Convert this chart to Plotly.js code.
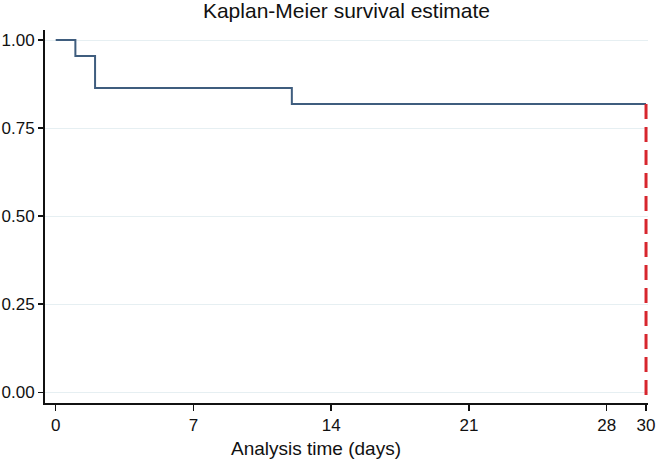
<!DOCTYPE html>
<html>
<head>
<meta charset="utf-8">
<script src="https://cdn.plot.ly/plotly-3.0.1.min.js"></script>
<style>html,body{margin:0;padding:0;background:#fff;}#chart{width:656px;height:464px;}</style>
</head>
<body>
<div id="chart"></div>
<script>
// Data
var times = [0, 1, 2, 12, 30];
var survival = [1.0, 0.9545, 0.8636, 0.8182, 0.8182];
var censorTime = [30, 30];
var xTicks = [0, 7, 14, 21, 28, 30];
var xTickLabels = ["0", "7", "14", "21", "28", "30"];
var yTicks = [0, 0.25, 0.5, 0.75, 1.0];
var yTickLabels = ["0.00", "0.25", "0.50", "0.75", "1.00"];

var yMin = -0.0305, yMax = 1.0284;
var font = "Liberation Sans, Arial, Helvetica, sans-serif";

var traces = [
  {
    x: times, y: survival, type: "scatter", mode: "lines",
    line: {shape: "hv", color: "#3f5d7e", width: 2},
    hoverinfo: "skip"
  },
  {
    x: censorTime, y: [survival[survival.length - 1], yMin], type: "scatter", mode: "lines",
    line: {color: "#d7262e", width: 3, dash: "15px,8px"},
    hoverinfo: "skip"
  }
];

var layout = {
  width: 656, height: 464,
  margin: {l: 45, r: 8, t: 30, b: 61},
  paper_bgcolor: "#ffffff", plot_bgcolor: "#ffffff",
  showlegend: false,
  font: {family: font, color: "#111", size: 17},
  title: {
    text: "Kaplan-Meier survival estimate",
    font: {family: font, size: 21, color: "#111"},
    x: 0.5, xref: "paper", y: 1 - 11/464, yref: "container", yanchor: "middle"
  },
  xaxis: {
    range: [-0.544, 30.1],
    tickmode: "array", tickvals: xTicks, ticktext: xTickLabels,
    ticks: "outside", ticklen: 6, tickwidth: 1.5, tickcolor: "#111",
    showline: true, linecolor: "#111", linewidth: 2,
    showgrid: false, zeroline: false,
    tickfont: {family: font, size: 17, color: "#111"}
  },
  yaxis: {
    range: [yMin, yMax],
    tickmode: "array", tickvals: yTicks, ticktext: yTickLabels,
    ticks: "outside", ticklen: 5, tickwidth: 1.5, tickcolor: "#111",
    showline: true, linecolor: "#111", linewidth: 2,
    showgrid: true, gridcolor: "#e6eff2", gridwidth: 1,
    zeroline: false,
    tickfont: {family: font, size: 17, color: "#111"}
  },
  annotations: [{
    text: "Analysis time (days)",
    xref: "paper", yref: "paper",
    x: 0.449, y: -(448 - 403) / 373,
    xanchor: "center", yanchor: "middle",
    showarrow: false,
    font: {family: font, size: 19, color: "#111"}
  }]
};

Plotly.newPlot("chart", traces, layout, {displayModeBar: false, staticPlot: true});
</script>
</body>
</html>
